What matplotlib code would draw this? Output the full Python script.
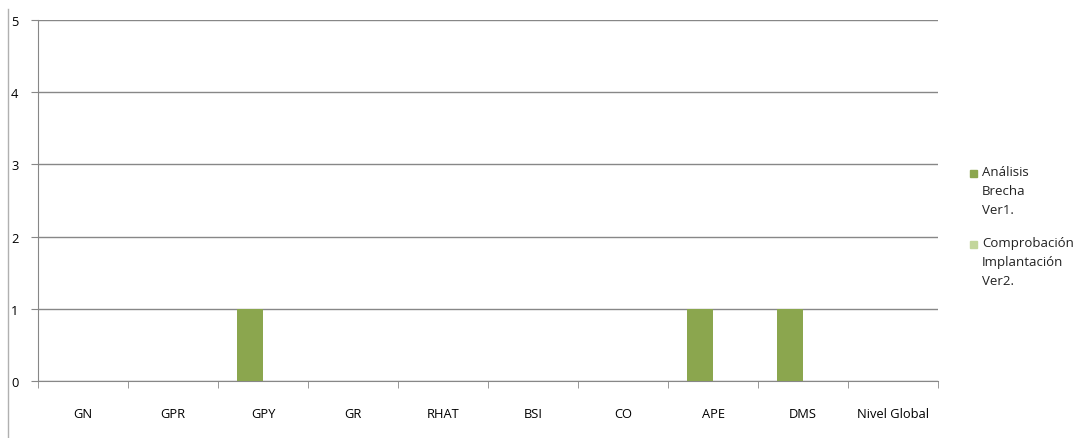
import numpy as np
import matplotlib
matplotlib.use('Agg')
import matplotlib.pyplot as plt
from matplotlib.lines import Line2D
from matplotlib.patches import Rectangle

categories = ['GN', 'GPR', 'GPY', 'GR', 'RHAT', 'BSI', 'CO', 'APE', 'DMS', 'Nivel Global']
ver1 = [0, 0, 1, 0, 0, 0, 0, 1, 1, 0]
ver2 = [0, 0, 0, 0, 0, 0, 0, 0, 0, 0]
labels = ['Análisis\nBrecha\nVer1.', 'Comprobación\nImplantación\nVer2.']
colors = ['#8ba64e', '#c3d69b']

plt.rcParams['font.family'] = ['Open Sans', 'DejaVu Sans']
W, H = 1076, 439
fig = plt.figure(figsize=(W / 100, H / 100), dpi=100)
ax = fig.add_axes([38 / W, 1 - 382 / H, 900 / W, 361 / H])

x = np.arange(len(categories))
bw = 0.29
ax.bar(x - bw / 2, ver1, width=bw, color=colors[0], zorder=3)
ax.bar(x + bw / 2, ver2, width=bw, color=colors[1], zorder=3)

grid_c = '#878787'
ax.set_xlim(-0.5, len(categories) - 0.5)
ax.set_ylim(0, 5)
ax.set_yticks(range(6))
ax.yaxis.grid(True, color=grid_c, lw=1)
ax.set_axisbelow(True)
for s in ['top', 'right']:
    ax.spines[s].set_visible(False)
for s in ['left', 'bottom']:
    ax.spines[s].set_color(grid_c)
ax.set_xticks(x)
ax.set_xticklabels(categories)
ax.set_xticks(np.arange(len(categories) + 1) - 0.5, minor=True)
ax.tick_params(axis='x', which='major', length=0, pad=19, labelsize=9.3)
ax.tick_params(axis='x', which='minor', length=5, color=grid_c)
ax.tick_params(axis='y', length=5, color=grid_c, labelsize=9.3, pad=9)

# outer chart frame edge on the left
fig.add_artist(Line2D([7.5 / W, 7.5 / W], [0, 1 - 10 / H], color='#b0b0b0', lw=1))

# legend: swatch beside the first line of each multi-line label
for i, (lab, c) in enumerate(zip(labels, colors)):
    ytop = 166 + i * 71
    fig.add_artist(Rectangle((970 / W, 1 - (ytop + 12) / H), 7 / W, 7 / H,
                             color=c, transform=fig.transFigure))
    fig.text(982 / W, 1 - ytop / H, lab, fontsize=9.5, va='top', ha='left',
             linespacing=1.62, color='#222222')

fig.savefig('out.png', dpi=100)
